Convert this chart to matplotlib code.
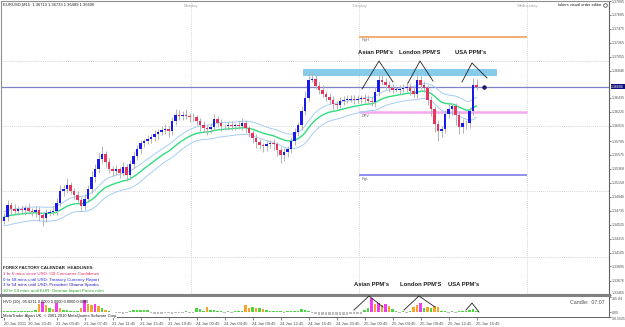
import numpy as np
import pandas as pd
import matplotlib
matplotlib.use("Agg")
import matplotlib.pyplot as plt
from matplotlib.lines import Line2D
from matplotlib.patches import Rectangle
import matplotlib.transforms as mtrans

plt.rcParams['font.family'] = ['Liberation Sans', 'DejaVu Sans']

# ---------------- data ----------------
header_text = "EURUSD,M15  1.36713 1.36733 1.36489 1.36606"
first_open = 1.34581
closes = [
    1.34641, 1.34821, 1.34761, 1.34731, 1.34761, 1.34746, 1.34776, 1.34731, 1.34716, 1.34746,
    1.34671, 1.34626, 1.34701, 1.34716, 1.34731, 1.34851, 1.35031, 1.35061, 1.35121, 1.35031,
    1.34971, 1.34896, 1.34806, 1.34911, 1.35061, 1.35241, 1.35361, 1.35511, 1.35586, 1.35466,
    1.35361, 1.35331, 1.35361, 1.35301, 1.35391, 1.35271, 1.35436, 1.35556, 1.35661, 1.35751,
    1.35781, 1.35811, 1.35841, 1.35886, 1.35916, 1.35946, 1.35961, 1.35931, 1.36081, 1.36171,
    1.36156, 1.36171, 1.36156, 1.36141, 1.36141, 1.36081, 1.36021, 1.35976, 1.35961, 1.35991,
    1.36111, 1.36051, 1.36006, 1.36006, 1.36021, 1.36006, 1.36021, 1.36006, 1.36051, 1.35976,
    1.35901, 1.35826, 1.35766, 1.35721, 1.35706, 1.35736, 1.35751, 1.35736, 1.35646, 1.35571,
    1.35616, 1.35661, 1.35781, 1.35916, 1.36021, 1.36231, 1.36441, 1.36711, 1.36726, 1.36621,
    1.36561, 1.36501, 1.36456, 1.36411, 1.36351, 1.36336, 1.36396, 1.36411, 1.36411, 1.36426,
    1.36411, 1.36426, 1.36441, 1.36426, 1.36396, 1.36381, 1.36531, 1.36711, 1.36681, 1.36636,
    1.36591, 1.36561, 1.36561, 1.36576, 1.36591, 1.36606, 1.36546, 1.36501, 1.36711, 1.36636,
    1.36591, 1.36411, 1.36261, 1.36036, 1.35931, 1.35961, 1.36186, 1.36261, 1.36306, 1.36171,
    1.35991, 1.36051, 1.36051, 1.36231, 1.36636, 1.36606]
upper_wick_pips = [
    6, 8, 5, 7, 4, 6, 5, 7, 4, 6,
    5, 4, 6, 5, 7, 8, 9, 6, 10, 5,
    4, 6, 5, 7, 6, 9, 8, 10, 12, 5,
    6, 5, 7, 4, 8, 5, 6, 8, 7, 5,
    4, 6, 5, 7, 5, 6, 8, 5, 7, 9,
    8, 6, 10, 5, 6, 4, 5, 6, 5, 7,
    8, 5, 6, 4, 5, 6, 4, 7, 8, 5,
    4, 5, 6, 5, 4, 6, 5, 6, 4, 5,
    6, 5, 7, 6, 5, 8, 10, 12, 10, 6,
    5, 7, 4, 6, 5, 4, 6, 5, 7, 6,
    5, 6, 4, 5, 6, 5, 7, 10, 9, 6,
    5, 6, 4, 6, 5, 7, 5, 6, 10, 6,
    5, 4, 6, 5, 7, 5, 6, 8, 6, 5,
    6, 7, 5, 6, 10, 9]
lower_wick_pips = [
    5, 6, 7, 5, 6, 4, 7, 5, 6, 8,
    9, 12, 6, 5, 4, 6, 5, 7, 6, 5,
    6, 5, 8, 6, 5, 6, 7, 6, 5, 7,
    5, 8, 6, 7, 5, 9, 6, 5, 6, 7,
    5, 4, 6, 5, 7, 4, 5, 8, 6, 5,
    5, 6, 4, 7, 5, 6, 8, 7, 9, 6,
    6, 5, 7, 6, 5, 6, 5, 4, 6, 7,
    6, 7, 8, 6, 9, 7, 6, 8, 9, 12,
    8, 7, 6, 5, 6, 7, 6, 5, 4, 5,
    6, 5, 7, 6, 8, 7, 5, 6, 5, 4,
    6, 5, 6, 7, 5, 6, 8, 7, 5, 6,
    6, 5, 4, 6, 5, 7, 6, 5, 6, 7,
    7, 8, 10, 12, 14, 8, 6, 5, 8, 14,
    10, 8, 9, 7, 6, 5]
volume = [
    25, 30, 20, 25, 30, 20, 25, 20, 30, 40,
    150, 190, 130, 70, 60, 170, 70, 40, 45, 30,
    20, 25, 80, 220, 150, 130, 160, 120, 70, 50,
    20, 10, -20, -15, -25, -20, 30, 40, 45, 40,
    50, 35, -20, -30, -25, -30, -20, -15, -25, -20,
    -15, -10, 15, -10, -15, 80, 60, 30, 100, 40,
    50, 30, 20, -15, 15, -20, 20, 25, 30, 130,
    80, 90, 70, 80, 60, 50, 20, 25, 15, 20,
    -10, 15, 20, 25, 30, 60, 40, 30, -20, -30,
    -45, -50, -55, -50, -45, -50, -55, -50, -45, -40,
    -40, -30, -35, 40, 80, 270, 150, 180, 130, 160,
    110, 60, 15, -20, 20, -15, 30, 90, 140, 170,
    80, 100, 70, 120, 90, 30, 20, -10, 15, -10,
    15, 20, 25, 40, 60, 30]
volume_class = ("gggggggggg" "omogomoggg" "ggomoomogo" "ggssssgggg" "ggssssssss"
                "ssgssgggog" "gggsgsgggo" "ogogoggggg" "sgggggggss" "ssssssssss"
                "sssggmomom" "oggsgsgoom" "gogooggsgs" "gggggg")

price_ticks = [1.37895, 1.37685, 1.37475, 1.37265, 1.37055, 1.36846, 1.36435, 1.36225,
               1.36015, 1.35785, 1.35575, 1.35368, 1.35158, 1.34946, 1.34735, 1.34525,
               1.34315, 1.34105, 1.33895, 1.33676, 1.33465]
price_tick_labels = ["1.37895", "1.37685", "1.37475", "1.37265", "1.37055", "1.36846", "1.36435",
                     "1.36225", "1.36015", "1.35785", "1.35575", "1.35368", "1.35158", "1.34946",
                     "1.34735", "1.34525", "1.34315", "1.34105", "1.33895", "1.33676", "1.33465"]
vol_ticks = [285.84, 0.0, -90.5935]
vol_tick_labels = ["285.84", "0.00", "-90.5935"]

time_label_bars = [0, 7, 15, 23, 31, 39, 47, 55, 63, 71, 79, 87, 95, 103, 111, 119, 127, 135]
time_labels = ["20 Jan 2011", "20 Jan 23:45", "21 Jan 03:45", "21 Jan 07:45", "21 Jan 11:45",
               "21 Jan 15:45", "21 Jan 19:45", "24 Jan 00:45", "24 Jan 04:45", "24 Jan 08:45",
               "24 Jan 12:45", "24 Jan 16:45", "24 Jan 20:45", "25 Jan 00:45", "25 Jan 04:45",
               "25 Jan 08:45", "25 Jan 12:45", "25 Jan 16:45"]
day_names = ["Monday", "Tuesday", "Wednesday"]
day_separator_bars = [53.5, 101.5, 149.5]

level_names = ["RgH", "DPV", "RgL"]
level_prices = [1.37356, 1.36216, 1.35271]
zone_bars = [85.4, 140.9]
zone_prices = [1.36771, 1.36876]

news_lines = ["FOREX FACTORY CALENDAR  HEADLINES:",
              "1 hr 6 mins since USD: CB Consumer Confidence",
              "0 hr 58 mins until USD: Treasury Currency Report",
              "3 hr 54 mins until USD: President Obama Speaks",
              "10 hr 54 mins until EUR: German Import Prices m/m"]
news_colours = ["#202020", "#e0306a", "#2a2ae8", "#2a1ab8", "#1ea01e"]
ppm_labels = ["Asian PPM's", "London PPM'S", "USA PPM's"]

# ---------------- layout helpers ----------------
W, H = 625, 327
def fx(x): return x / W
def fy(y): return 1 - y / H
def P(y): return 1.37911 - 0.00015 * y   # pixel row -> price (axis scaling)

n = len(closes)
assert len(upper_wick_pips) == n and len(lower_wick_pips) == n
assert len(volume) == n and len(volume_class) == n
idx = np.arange(n)
opens = np.array([first_open] + closes[:-1])
cl = np.array(closes)
highs = np.maximum(opens, cl) + np.array(upper_wick_pips) * 0.0001
lows = np.minimum(opens, cl) - np.array(lower_wick_pips) * 0.0001

fig = plt.figure(figsize=(6.25, 3.27), dpi=100)
fig.patch.set_facecolor("white")

ax = fig.add_axes([fx(1), fy(295), fx(609) - fx(1), fy(1) - fy(295)])
axv = fig.add_axes([fx(1), fy(317), fx(609) - fx(1), fy(297) - fy(317)], sharex=ax)

x0 = (1 - 4) / 3.5
x1 = (609 - 4) / 3.5
ax.set_xlim(x0, x1)
ax.set_ylim(P(295), P(1))

# grid
for yy in [61, 127, 192, 258]:
    ax.axhline(P(yy), color="#c8c8c8", lw=0.6, ls=(0, (1, 1.5)), zorder=0)
for b in day_separator_bars:
    ax.axvline(b, color="#c8c8c8", lw=0.6, ls=(0, (1, 1.5)), zorder=0)

# zone rectangle
ax.add_patch(Rectangle((zone_bars[0], zone_prices[0]), zone_bars[1] - zone_bars[0],
                       zone_prices[1] - zone_prices[0], facecolor="#86cbea", edgecolor="none", zorder=1))

# level lines
level_cols = ["#f0a868", "#f4a8f0", "#7c7cec"]
level_lw = [1.3, 1.8, 1.2]
for name, p, c, lw in zip(level_names, level_prices, level_cols, level_lw):
    ax.hlines(p, day_separator_bars[1], day_separator_bars[2], color=c, lw=lw, zorder=2)
    ax.text(day_separator_bars[1] + 0.6, p - 0.00022, name, fontsize=2.8, color="#707070",
            va="top", ha="left", zorder=3)

# price line
ax.axhline(cl[-1], color="#8080c8", lw=0.9, zorder=2)

# moving averages
ema = pd.Series(cl).ewm(span=21, adjust=False).mean()
ema_hi = pd.Series(highs).ewm(span=21, adjust=False).mean() + 0.0002
ema_lo = pd.Series(lows).ewm(span=21, adjust=False).mean() - 0.0002
ax.plot(idx, ema_hi, color="#a6cdf2", lw=0.7, zorder=3)
ax.plot(idx, ema_lo, color="#a6cdf2", lw=0.7, zorder=3)
ax.plot(idx, ema, color="#30dc80", lw=1.0, zorder=3)

# candles
ax.vlines(idx, lows, highs, color="#b4b4b4", lw=0.7, zorder=4)
bull = cl >= opens
heights = np.where(np.abs(cl - opens) < 0.00005, 0.00006, cl - opens)
ax.bar(idx[bull], heights[bull], bottom=opens[bull], width=0.6, color="#1a1ae8", zorder=5, linewidth=0)
ax.bar(idx[~bull], heights[~bull], bottom=opens[~bull], width=0.6, color="#e8345c", zorder=5, linewidth=0)

# end dot
ax.plot([n + 1], [cl[-1]], marker="o", ms=2.2, color="#18186a", zorder=6)

# axes styling
for s in ax.spines.values():
    s.set_color("#909090")
    s.set_linewidth(0.8)
ax.spines["bottom"].set_linewidth(2.2)
ax.spines["bottom"].set_color("#808080")
ax.spines["right"].set_color("#606060")
ax.yaxis.tick_right()
ax.set_yticks(price_ticks)
ax.set_yticklabels(price_tick_labels)
ax.tick_params(axis="y", labelsize=2.6, length=1.5, width=0.5, pad=0.5, colors="#505050")
ax.tick_params(axis="x", bottom=False, labelbottom=False)
ax.get_yticklabels()[-1].set_va("bottom")

# current price label
blend = mtrans.blended_transform_factory(ax.transAxes, ax.transData)
ax.text(1.0035, cl[-1], "%.5f" % cl[-1], transform=blend, fontsize=2.6, color="white",
        va="center", ha="left", clip_on=False, zorder=10,
        bbox=dict(boxstyle="square,pad=0.15", fc="#10107a", ec="none"))

# day names at the top
for b, nm in zip(day_separator_bars, day_names):
    ax.text(b, 1 - 5 / 294, nm, transform=ax.get_xaxis_transform(), fontsize=3,
            color="#a8a8a8", ha="center", va="center", zorder=6)

# volume sub-window
vc_map = {"g": "#4cd640", "o": "#f5a52a", "m": "#f23cf0", "s": "#bdbdbd"}
axv.bar(idx, volume, width=0.6, color=[vc_map[c] for c in volume_class], linewidth=0)
axv.set_ylim(-90.5935, 285.84)
axv.set_xlim(x0, x1)
for s in axv.spines.values():
    s.set_color("#606060")
    s.set_linewidth(0.7)
axv.spines["top"].set_visible(False)
axv.spines["left"].set_color("#909090")
axv.yaxis.tick_right()
axv.set_yticks(vol_ticks)
axv.set_yticklabels(vol_tick_labels)
axv.tick_params(axis="y", labelsize=2.5, length=1.5, width=0.5, pad=0.5, colors="#505050")
vl = axv.get_yticklabels()
vl[0].set_va("top")
vl[-1].set_va("top")
axv.set_xticks(time_label_bars)
axv.set_xticklabels(time_labels, ha="left")
axv.tick_params(axis="x", labelsize=3, length=2, width=0.5, pad=1.5, colors="#505050")

# ---------------- texts / annotations ----------------
fig.text(fx(3), fy(5), header_text, fontsize=3, color="#202020", va="center", ha="left")
fig.text(fx(601), fy(5), "lukers visual order editor", fontsize=2.9, color="#202020",
         va="center", ha="right")
fig.add_artist(Line2D([fx(605)], [fy(5)], marker="o", ms=2.6, mfc="none", mec="#404040",
                      mew=0.5, transform=fig.transFigure))

for i, (t, c) in enumerate(zip(news_lines, news_colours)):
    fig.text(fx(3), fy(268 + 5.8 * i), t, fontsize=3.2, color=c, va="center", ha="left",
             fontweight="bold" if i == 0 else "normal")

fig.text(fx(3), fy(302), "HVO (20) -95.6211 0.0000 0.0000 0.0000 0.0000", fontsize=2.9,
         color="#202020", va="center", ha="left")
fig.text(fx(3), fy(315.5), "MetaTrader Alpari UK, \u00a9 2001-2010 MetaQuotes Software Corp.",
         fontsize=2.9, color="#202020", va="center", ha="left",
         bbox=dict(boxstyle="square,pad=0.05", fc="white", ec="none"))
fig.text(fx(605), fy(302), "Candle:  07:07", fontsize=3.8, color="#505050", va="center", ha="right")

# PPM annotations (main chart)
top_label_x = [375, 420, 471]
top_label_y = [53, 53, 52]
for t, x, y in zip(ppm_labels, top_label_x, top_label_y):
    fig.text(fx(x), fy(y), t, fontsize=4.2, fontweight="bold", color="#202020", ha="center", va="center")
top_vs = [[(362, 89), (379, 61), (393, 82)],
          [(408, 83), (420, 61), (433, 81)],
          [(462, 82), (472, 63), (487, 78)]]
bot_vs = [[(354, 310), (369, 296), (383, 307)],
          [(404, 310), (419, 296), (435, 307)],
          [(466, 310), (472, 303), (479, 312)]]
for v in top_vs + bot_vs:
    xs = [fx(p[0]) for p in v]
    ys = [fy(p[1]) for p in v]
    fig.add_artist(Line2D(xs, ys, color="#202020", lw=0.6, transform=fig.transFigure, zorder=20))
bot_label_x = [371, 421, 464]
for t, x in zip(ppm_labels, bot_label_x):
    fig.text(fx(x), fy(285), t, fontsize=4.2, fontweight="bold", color="#202020", ha="center", va="center")

fig.savefig("out.png", dpi=100)
